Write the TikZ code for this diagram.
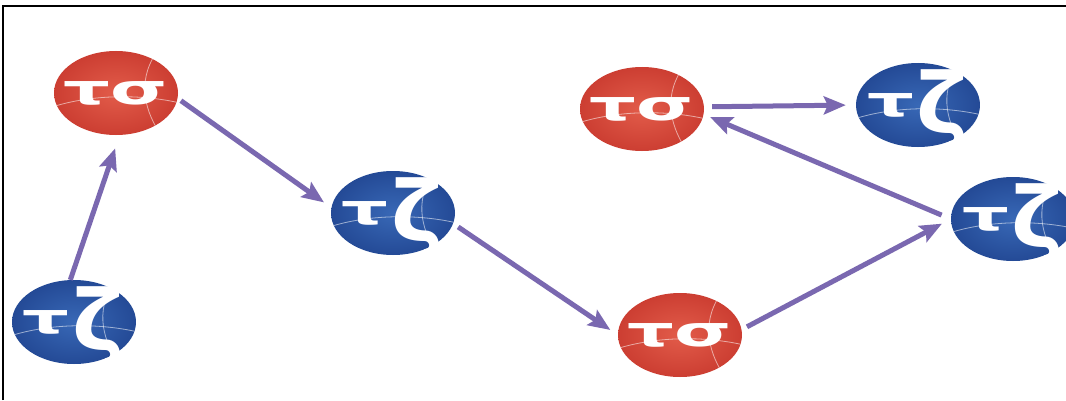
\documentclass[tikz,border=0pt]{standalone}
\usepackage{fontspec}
\usepackage{graphicx}
\setmainfont{DejaVu Sans}
\usetikzlibrary{shapes.geometric,arrows.meta,calc}
\definecolor{nredin}{RGB}{226,92,74}
\definecolor{nredout}{RGB}{204,62,50}
\definecolor{nbluein}{RGB}{56,104,182}
\definecolor{nblueout}{RGB}{36,74,150}
\definecolor{arrc}{RGB}{122,104,176}
\newcommand{\tsig}{\smash{\makebox[0pt]{\raisebox{-11.5pt}{\scalebox{1.75}[1]{\fontsize{42}{42}\selectfont\bfseries τσ}}}}}
\newcommand{\tzet}{\smash{\makebox[0pt]{\raisebox{-11.5pt}{\scalebox{1.75}[1]{\fontsize{42}{42}\selectfont\bfseries τ}\hspace{3pt}\raisebox{-17pt}{\scalebox{1.05}[1]{\fontsize{84}{84}\selectfont\bfseries ζ}}}}}}
\tikzset{
  ball/.style={ellipse, minimum width=124pt, minimum height=84pt, inner sep=0pt, text=white,
    path picture={
      \draw[white, opacity=.55, line width=.8pt]
        ($(path picture bounding box.center)+(-64,-14)$) .. controls ($(path picture bounding box.center)+(-20,0)$) and ($(path picture bounding box.center)+(30,-2)$) .. ($(path picture bounding box.center)+(64,-10)$);
      \draw[white, opacity=.55, line width=.8pt]
        ($(path picture bounding box.center)+(40,40)$) .. controls ($(path picture bounding box.center)+(20,10)$) and ($(path picture bounding box.center)+(30,-20)$) .. ($(path picture bounding box.center)+(45,-42)$);
    }},
  redball/.style={ball, inner color=nredin, outer color=nredout},
  blueball/.style={ball, inner color=nbluein, outer color=nblueout},
  arr/.style={draw=arrc, line width=5pt, -{Stealth[length=22pt,width=18pt,inset=4pt]}}
}
\begin{document}
\begin{tikzpicture}[x=1pt,y=1pt]
\useasboundingbox (0,0) rectangle (1066,400);
\clip (0,0) rectangle (1066,400);
\fill[white] (0,0) rectangle (1066,400);
\draw[line width=2.5pt] (3,0) -- (3,394) -- (1066,394);

\node[redball]  (n1) at (116,307) {\tsig};
\node[blueball] (n2) at (74,78)   {\tzet};
\node[blueball] (n3) at (393,187) {\tzet};
\node[redball]  (n4) at (680,65)  {\tsig};
\node[redball]  (n5) at (642,291) {\tsig};
\node[blueball] (n6) at (918,295) {\tzet};
\node[blueball] (n7) at (1013,181) {\tzet};

\draw[arr, shorten >=14pt] (n2.95) -- (n1.-85);
\draw[arr, shorten <=4pt, shorten >=9pt] (n1.-5) -- (n3.175);
\draw[arr, shorten <=6pt, shorten >=9pt] (n3.-10) -- (n4.180);
\draw[arr, shorten <=6pt, shorten >=10pt] (n4.5) -- (n7.180);
\draw[arr, shorten <=10pt, shorten >=7pt] (n7.180) -- (n5.-5);
\draw[arr, shorten <=8pt, shorten >=10pt] (n5.2) -- (n6.180);
\end{tikzpicture}
\end{document}
